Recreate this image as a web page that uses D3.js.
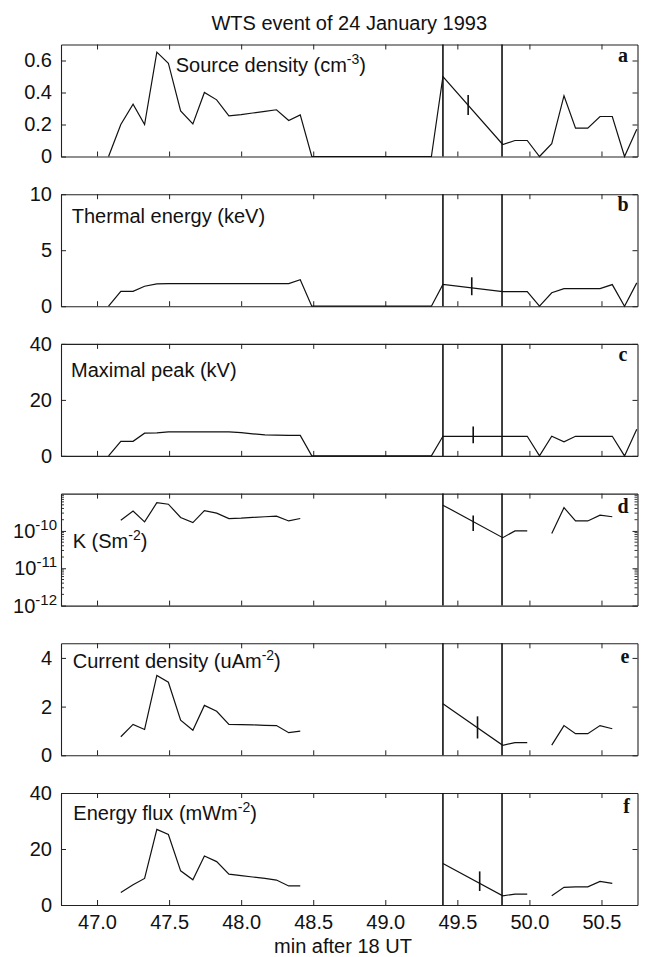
<!DOCTYPE html>
<html><head><meta charset="utf-8">
<script src="https://cdn.jsdelivr.net/npm/d3@7"></script>
<style>
html,body{margin:0;padding:0;background:#fff;}
svg{display:block;}
text{font-family:"Liberation Sans",Arial,Helvetica,sans-serif;fill:#111;}
</style></head>
<body>
<svg id="chart" width="648" height="957"></svg>
<script>
// ---------------- data ----------------
const title = "WTS event of 24 January 1993";
const xLabel = "min after 18 UT";
const xTicks = [47.0, 47.5, 48.0, 48.5, 49.0, 49.5, 50.0, 50.5];
const xDomain = [46.75, 50.75];
const markerTimes = [49.40, 49.81];

const times = [47.08, 47.165, 47.25, 47.33, 47.415, 47.495, 47.58, 47.665, 47.745, 47.83, 47.915,
  48.0, 48.08, 48.165, 48.245, 48.33, 48.41, 48.49,
  49.32, 49.40, 49.815, 49.90, 49.985, 50.07, 50.155, 50.24, 50.32, 50.405, 50.49, 50.575, 50.66, 50.745];

const sourceDensity = [0, 0.2, 0.327, 0.2, 0.652, 0.583, 0.285, 0.204, 0.40, 0.354, 0.254,
  0.262, 0.272, 0.282, 0.292, 0.225, 0.26, 0,
  0, 0.5, 0.075, 0.1, 0.1, 0, 0.08, 0.38, 0.177, 0.177, 0.25, 0.25, 0, 0.171];
const thermalEnergy = [0, 1.33, 1.33, 1.78, 2.0, 2.02, 2.02, 2.02, 2.02, 2.02, 2.02,
  2.02, 2.02, 2.02, 2.02, 2.02, 2.37, 0,
  0, 1.95, 1.3, 1.3, 1.3, 0, 1.2, 1.57, 1.57, 1.57, 1.57, 1.93, 0, 2.08];
const maximalPeak = [0, 5.2, 5.2, 8.1, 8.2, 8.6, 8.6, 8.6, 8.6, 8.6, 8.6,
  8.3, 7.9, 7.5, 7.4, 7.3, 7.3, 0,
  0, 7.0, 7.0, 7.0, 7.0, 0, 7.0, 5.0, 7.0, 7.0, 7.0, 7.0, 0, 9.5];
const conductanceK = [null, 1.94e-10, 3.4e-10, 1.75e-10, 5.7e-10, 5.2e-10, 2.3e-10, 1.67e-10, 3.5e-10, 3.0e-10, 2.15e-10,
  2.2e-10, 2.3e-10, 2.4e-10, 2.5e-10, 1.85e-10, 2.15e-10, null,
  null, 4.9e-10, 6.6e-11, 1.0e-10, 1.0e-10, null, 8.5e-11, 4.2e-10, 1.85e-10, 1.85e-10, 2.65e-10, 2.4e-10, null, null];
const currentDensity = [null, 0.76, 1.27, 1.06, 3.28, 3.0, 1.44, 1.03, 2.05, 1.81, 1.27,
  1.26, 1.25, 1.23, 1.22, 0.93, 0.99, null,
  null, 2.12, 0.41, 0.52, 0.52, null, 0.42, 1.22, 0.89, 0.89, 1.22, 1.09, null, null];
const energyFlux = [null, 4.5, 7.2, 9.5, 27, 25.2, 12.2, 9.0, 17.5, 15.5, 11.0,
  10.5, 10.0, 9.5, 8.9, 6.8, 6.8, null,
  null, 14.8, 3.3, 3.9, 3.9, null, 3.3, 6.3, 6.5, 6.5, 8.4, 7.7, null, null];

// error bars (one per panel a..f)
const errTime = [49.575, 49.60, 49.61, 49.61, 49.64, 49.655];
const errLow  = [0.26, 0.98, 4.5, 1.0e-10, 0.69, 5];
const errHigh = [0.385, 2.58, 10.5, 2.6e-10, 1.6, 12];

const panelLetters = ["a", "b", "c", "d", "e", "f"];
const panelNames = [
  ["Source density (cm", "-3", ")"],
  ["Thermal energy (keV)", "", ""],
  ["Maximal peak (kV)", "", ""],
  ["K (Sm", "-2", ")"],
  ["Current density (uAm", "-2", ")"],
  ["Energy flux (mWm", "-2", ")"]
];
const yDomains = [[0, 0.7], [0, 10], [0, 40], [1e-12, 1e-9], [0, 4.6], [0, 40]];
const yTickValues = [[0, 0.2, 0.4, 0.6], [0, 5, 10], [0, 20, 40], [1e-12, 1e-11, 1e-10], [0, 2, 4], [0, 20, 40]];
const yTickText = [["0", "0.2", "0.4", "0.6"], ["0", "5", "10"], ["0", "20", "40"], ["-12", "-11", "-10"], ["0", "2", "4"], ["0", "20", "40"]];
const series = [sourceDensity, thermalEnergy, maximalPeak, conductanceK, currentDensity, energyFlux];

// ---------------- layout ----------------
const left = 61, right = 637.5, panelH = 112;
const panelTop = i => 44.5 + i * 149.7;
const nameX = [175.7, 71.7, 71, 72.7, 72.7, 73.3];
const nameY = [71.7, 222.7, 376.7, 548.3, 668.3, 820];
const letterPos = [[623, 61.7], [623, 211], [623, 360.7], [623, 513.3], [625, 663], [626.7, 813]];

const svg = d3.select("#chart");
const x = d3.scaleLinear().domain(xDomain).range([left, right]);

svg.append("text").attr("x", (left + right) / 2).attr("y", 30)
  .attr("text-anchor", "middle").attr("font-size", 20).text(title);

series.forEach((vals, i) => {
  const top = panelTop(i), bottom = top + panelH;
  const isLog = i === 3;
  const y = (isLog ? d3.scaleLog() : d3.scaleLinear()).domain(yDomains[i]).range([bottom, top]);
  const g = svg.append("g");

  // axes (inward ticks)
  const styleAxis = sel => {
    sel.selectAll(".domain").attr("stroke", "#222").attr("stroke-width", 1.1);
    sel.selectAll(".tick line").attr("stroke", "#222").attr("stroke-width", 1);
  };
  const xb = d3.axisBottom(x).tickValues(xTicks).tickSizeInner(-5).tickSizeOuter(0).tickPadding(10)
    .tickFormat(i === 5 ? d3.format(".1f") : () => "");
  g.append("g").attr("transform", `translate(0,${bottom})`).call(xb).call(styleAxis)
    .selectAll("text").attr("font-size", 20).attr("font-family", '"Liberation Sans",Arial,sans-serif').attr("fill", "#111");
  g.append("g").attr("transform", `translate(0,${top})`)
    .call(d3.axisTop(x).tickValues(xTicks).tickSizeInner(-5).tickSizeOuter(0).tickFormat(() => "")).call(styleAxis);

  const yl = d3.axisLeft(y).tickValues(yTickValues[i]).tickSizeInner(-5).tickSizeOuter(0).tickPadding(9)
    .tickFormat((d, k) => isLog ? "" : yTickText[i][k]);
  const yAxisG = g.append("g").attr("transform", `translate(${left},0)`).call(yl).call(styleAxis);
  yAxisG.selectAll("text").attr("font-size", 20).attr("font-family", '"Liberation Sans",Arial,sans-serif').attr("fill", "#111");
  g.append("g").attr("transform", `translate(${right},0)`)
    .call(d3.axisRight(y).tickValues(yTickValues[i]).tickSizeInner(-5).tickSizeOuter(0).tickFormat(() => "")).call(styleAxis);

  if (isLog) {
    // minor ticks
    const minors = [];
    for (let e = -12; e < -9; e++) for (let m = 2; m <= 9; m++) minors.push(m * Math.pow(10, e));
    [[left, 1], [right, -1]].forEach(([xx, dir]) => {
      g.selectAll(null).data(minors).enter().append("line")
        .attr("x1", xx).attr("x2", xx + dir * 3)
        .attr("y1", d => y(d)).attr("y2", d => y(d))
        .attr("stroke", "#222").attr("stroke-width", 0.9);
    });
    // labels 10^n
    yTickValues[i].forEach((v, k) => {
      const t = g.append("text").attr("y", y(v) + 7).attr("x", left - 4)
        .attr("text-anchor", "end").attr("font-size", 20);
      t.append("tspan").text("10");
      t.append("tspan").attr("dy", -8).attr("font-size", 15).text(yTickText[i][k]);
    });
  }

  // marker lines
  g.selectAll(null).data(markerTimes).enter().append("line")
    .attr("x1", d => x(d)).attr("x2", d => x(d)).attr("y1", top).attr("y2", bottom)
    .attr("stroke", "#111").attr("stroke-width", 1.6);

  // data line
  const pts = times.map((t, k) => [t, vals[k]]);
  const line = d3.line().defined(d => d[1] !== null && (!isLog || d[1] > 0))
    .x(d => x(d[0])).y(d => y(d[1]));
  g.append("path").datum(pts).attr("d", line).attr("fill", "none")
    .attr("stroke", "#111").attr("stroke-width", 1.2).attr("stroke-linejoin", "miter");

  // error bar
  g.append("line").attr("x1", x(errTime[i])).attr("x2", x(errTime[i]))
    .attr("y1", y(errLow[i])).attr("y2", y(errHigh[i]))
    .attr("stroke", "#111").attr("stroke-width", 1.6);

  // panel name
  const nm = panelNames[i];
  const nt = g.append("text").attr("x", nameX[i]).attr("y", nameY[i]).attr("font-size", 20);
  nt.append("tspan").text(nm[0]);
  if (nm[1]) {
    nt.append("tspan").attr("dy", -8).attr("font-size", 14).text(nm[1]);
    nt.append("tspan").attr("dy", 8).text(nm[2]);
  }
  // panel letter
  g.append("text").attr("x", letterPos[i][0]).attr("y", letterPos[i][1])
    .attr("text-anchor", "middle").attr("font-size", 20).attr("font-weight", "bold")
    .style("font-family", '"Liberation Serif","Times New Roman",serif').text(panelLetters[i]);
});

svg.append("text").attr("x", 343).attr("y", 953).attr("text-anchor", "middle")
  .attr("font-size", 20).text(xLabel);
</script>
</body></html>
